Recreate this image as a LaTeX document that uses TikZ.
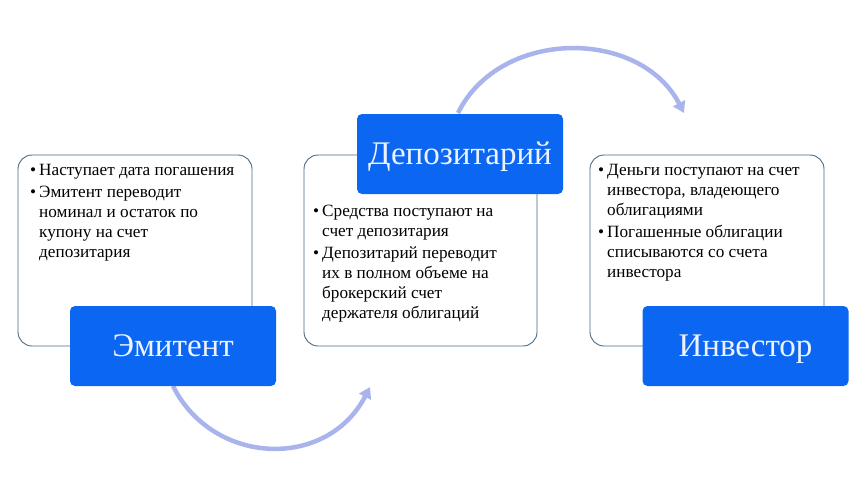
\documentclass[tikz,border=0pt]{standalone}
\usepackage{fontspec}
\setmainfont{Liberation Serif}
\usetikzlibrary{arrows.meta}
\definecolor{boxblue}{RGB}{11,102,241}
\definecolor{edgegray}{RGB}{70,105,135}
\definecolor{arcblue}{RGB}{170,180,236}
\definecolor{titlewhite}{RGB}{236,242,255}
\tikzset{
  infobox/.style={draw=edgegray, line width=0.9pt, rounded corners=14pt, fill=white},
  titlebox/.style={fill=boxblue, rounded corners=5pt, minimum width=206pt, minimum height=80pt, inner sep=0pt,
     text height=20pt, text depth=0pt,
     text=titlewhite, font=\fontsize{33}{36}\selectfont},
  bodytext/.style={anchor=north west, inner sep=0pt, align=left, font=\fontsize{17.2}{20}\selectfont},
  arcarrow/.style={draw=arcblue, line width=4.5pt, -{Triangle[length=11pt,width=13pt]}}
}
\newcommand{\bul}{\makebox[9pt][l]{\textbullet}}
\newcommand{\ind}{\hspace*{9pt}}
\begin{document}
\begin{tikzpicture}[x=1pt,y=-1pt]
\path[use as bounding box] (0,0) rectangle (864,495);
% arcs
\coordinate (a1s) at (173,386);
\coordinate (a1e) at (370,387);
\coordinate (a2s) at (458,113);
\coordinate (a2e) at (684,113);
\draw[arcarrow] (a1s) .. controls (213,466) and (327,470) .. (a1e);
\draw[arcarrow] (a2s) .. controls (500,28) and (640,28) .. (a2e);
% info boxes
\path[infobox] (18,155) rectangle (252,346);
\path[infobox] (304,155) rectangle (537,346);
\path[infobox] (590,155) rectangle (824,346);
% title boxes
\node[titlebox] (em) at (173,346) {Эмитент};
\node[titlebox] (dep) at (460,154) {Депозитарий};
\node[titlebox] (inv) at (745.5,346) {Инвестор};
% texts
\node[bodytext] (t1) at (30,161) {\strut\bul Наступает дата погашения\\[2pt]
\bul Эмитент переводит\\ \ind номинал и остаток по\\ \ind купону на счет\\ \ind депозитария};
\node[bodytext] (t2) at (313,202) {\strut\bul Средства поступают на\\ \ind счет депозитария\\[2pt]
\bul Депозитарий переводит\\ \ind их в полном объеме на\\ \ind брокерский счет\\ \ind держателя облигаций};
\node[bodytext] (t3) at (598,161) {\strut\bul Деньги поступают на счет\\ \ind инвестора, владеющего\\ \ind облигациями\\[2pt]
\bul Погашенные облигации\\ \ind списываются со счета\\ \ind инвестора};
\end{tikzpicture}
\end{document}
